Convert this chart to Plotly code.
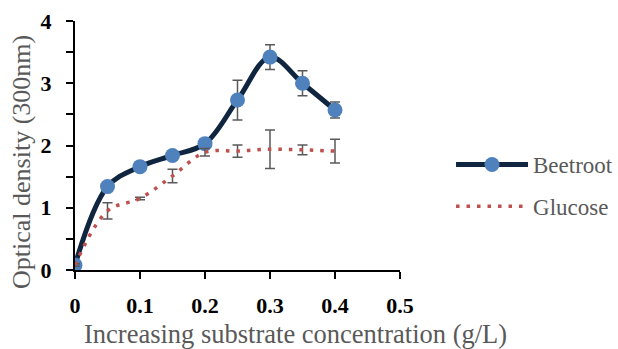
import plotly.graph_objects as go

x_vals = [0, 0.05, 0.1, 0.15, 0.2, 0.25, 0.3, 0.35, 0.4]
beetroot = [0.08, 1.34, 1.66, 1.84, 2.03, 2.73, 3.42, 3.00, 2.57]
beetroot_err = [0.03, 0.05, 0.05, 0.05, 0.05, 0.32, 0.20, 0.20, 0.13]
glucose = [0.08, 0.95, 1.15, 1.51, 1.89, 1.91, 1.94, 1.93, 1.91]
glucose_err = [0.02, 0.13, 0.02, 0.11, 0.06, 0.10, 0.31, 0.08, 0.19]

x_ticks = [0, 0.1, 0.2, 0.3, 0.4, 0.5]
x_tick_text = ["0", "0.1", "0.2", "0.3", "0.4", "0.5"]
y_ticks = [0, 1, 2, 3, 4]
y_tick_text = ["0", "1", "2", "3", "4"]

SERIF = "Liberation Serif"
GREY = "#595959"
ERR = "#595959"

fig = go.Figure()
fig.add_trace(go.Scatter(
    x=x_vals, y=beetroot, name="Beetroot", mode="lines+markers",
    line=dict(color="#10253F", width=5, shape="spline", smoothing=1),
    marker=dict(color="#4F81BD", size=15),
    error_y=dict(type="data", array=beetroot_err, color=ERR, thickness=1.5, width=5),
    legendgroup="b",
))
fig.add_trace(go.Scatter(
    x=x_vals, y=glucose, name="Glucose", mode="lines",
    line=dict(color="#C0504D", width=3.5, dash="3.5px,7px", shape="spline", smoothing=1),
    error_y=dict(type="data", array=glucose_err, color=ERR, thickness=1.5, width=5),
    legendgroup="g",
))

axis_common = dict(
    showline=True, linecolor="black", linewidth=2,
    ticks="outside", ticklen=7, tickwidth=2, tickcolor="black",
    showgrid=False, zeroline=False,
    tickfont=dict(family=SERIF, size=22, color="black", weight="bold"),
)

fig.update_layout(
    width=618, height=349,
    margin=dict(l=75, r=218, t=21, b=79, autoexpand=False),
    paper_bgcolor="white", plot_bgcolor="white",
    xaxis=dict(range=[0, 0.5], tickvals=x_ticks, ticktext=x_tick_text,
               ticklabelstandoff=8, **axis_common),
    yaxis=dict(range=[0, 4], tickvals=y_ticks, ticktext=y_tick_text,
               ticklabelstandoff=10,
               minor=dict(tickvals=[0.5, 1.5, 2.5, 3.5], ticks="outside", ticklen=7,
                          tickwidth=2, tickcolor="black"),
               **axis_common),
    legend=dict(x=1.157, y=0.51, xanchor="left", yanchor="top",
                font=dict(family=SERIF, size=23, color=GREY),
                itemwidth=72, traceorder="grouped", tracegroupgap=9,
                bgcolor="rgba(0,0,0,0)"),
    showlegend=True,
)

fig.add_annotation(
    text="Increasing substrate concentration (g/L)",
    xref="paper", yref="paper", x=0.677, y=-0.258,
    xanchor="center", yanchor="middle", showarrow=False,
    font=dict(family=SERIF, size=26.5, color=GREY),
)
fig.add_annotation(
    text="Optical density (300nm)",
    xref="paper", yref="paper", x=-0.163, y=0.434,
    xanchor="center", yanchor="middle", showarrow=False, textangle=-90,
    font=dict(family=SERIF, size=26, color=GREY),
)

fig.write_html(
    "out.html",
    config={"displayModeBar": False},
    post_script="document.body.style.margin='0';document.body.style.overflow='hidden';",
)
